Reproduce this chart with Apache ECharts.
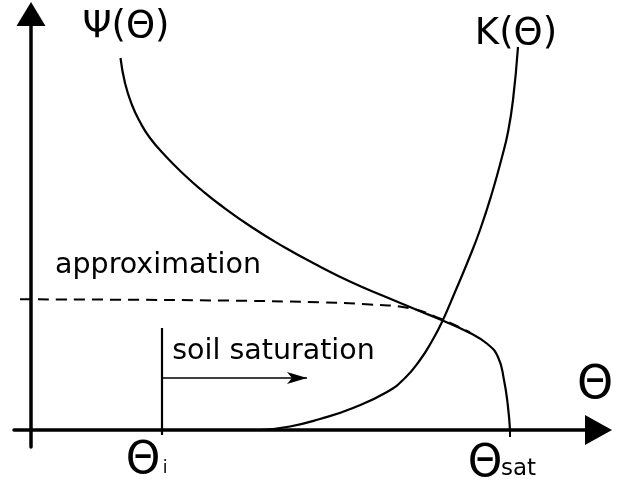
<!DOCTYPE html>
<html>
<head>
<meta charset="utf-8">
<script src="https://cdn.jsdelivr.net/npm/echarts@6/dist/echarts.min.js"></script>
<style>
  html, body { margin: 0; padding: 0; background: #fff; }
  #chart { width: 632px; height: 485px; }
</style>
</head>
<body>
<div id="chart"></div>
<script>
// schematic units: theta along x, value along y (origin at the axes crossing)
const psiCurve = [
  [89.5, 372], [94, 347], [101, 325], [109, 308], [119, 292], [134.5, 274],
  [153.5, 255], [170.5, 240], [188, 226], [220.5, 203], [253, 183], [286, 165],
  [320, 148], [355, 133], [388.5, 119], [410.5, 110], [439, 97], [456.5, 86],
  [467, 73], [473, 50], [477, 23], [479, 0]
];
const kCurve = [
  [229, 0], [259, 3.5], [289, 11], [322, 22], [356, 38], [374, 52],
  [389, 70], [401, 89], [411, 108], [424, 138], [437, 169], [449, 200],
  [461, 237], [471, 273], [477, 298], [482, 330], [487, 383]
];
const approxCurve = [
  [-11, 130.7], [89, 130.3], [189, 129.5], [289, 127.7], [339, 125.5],
  [379, 121.7], [409, 111.5], [439, 97.5]
];
const thetaI = 131;
const thetaSat = 479;
const initialLine = [[thetaI, 102], [thetaI, -5]];
const satTick = [[thetaSat, 0], [thetaSat, -7]];
const saturationArrow = [[thetaI, 52], [276, 52]];

const FONT = '"DejaVu Sans", sans-serif';
const txt = (x, y, text, size, align) => ({
  type: 'text', x: x, y: y,
  style: { text: text, font: size + 'px ' + FONT, fill: '#000', textAlign: align || 'center', textVerticalAlign: 'middle' }
});

const chart = echarts.init(document.getElementById('chart'));
chart.setOption({
  animation: false,
  grid: { left: 14, right: 33.5, top: 14, bottom: 38, outerBoundsMode: 'none' },
  xAxis: {
    type: 'value', min: -17, max: 567.5,
    axisLine: { show: true, onZero: true, symbol: ['none', 'triangle'], symbolSize: [30, 27],
      lineStyle: { color: '#000', width: 3.5 } },
    axisTick: { show: false }, axisLabel: { show: false }, splitLine: { show: false }
  },
  yAxis: {
    type: 'value', min: -17, max: 416,
    axisLine: { show: true, onZero: true, symbol: ['none', 'triangle'], symbolSize: [29, 24],
      lineStyle: { color: '#000', width: 3.5 } },
    axisTick: { show: false }, axisLabel: { show: false }, splitLine: { show: false }
  },
  series: [
    { type: 'line', data: psiCurve, smooth: 0.5, showSymbol: false,
      lineStyle: { color: '#000', width: 2.2 } },
    { type: 'line', data: kCurve, smooth: 0.5, showSymbol: false,
      lineStyle: { color: '#000', width: 2.2 } },
    { type: 'line', data: approxCurve, smooth: 0.5, showSymbol: false,
      lineStyle: { color: '#000', width: 2, type: [11, 7] } },
    { type: 'line', data: initialLine, showSymbol: false,
      lineStyle: { color: '#000', width: 2.2 },
      markLine: {
        silent: true, symbol: ['none', 'arrow'],
        label: { show: false },
        lineStyle: { color: '#000', width: 1.6, type: 'solid' },
        data: [[{ coord: saturationArrow[0] }, { coord: saturationArrow[1], symbolSize: [9, 20] }]]
      } },
    { type: 'line', data: satTick, showSymbol: false,
      lineStyle: { color: '#000', width: 2 } }
  ],
  graphic: [
    txt(126, 27.5, 'Ψ(Θ)', 37),
    txt(516, 34, 'K(Θ)', 37),
    txt(595, 386, 'Θ', 46),
    txt(158, 265.5, 'approximation', 28.5),
    txt(273.5, 351.5, 'soil saturation', 28.5),
    txt(143, 461.5, 'Θ', 44),
    txt(165, 469, 'i', 17),
    txt(485, 464.5, 'Θ', 44),
    txt(501, 469, 'sat', 23, 'left')
  ]
});
</script>
</body>
</html>
